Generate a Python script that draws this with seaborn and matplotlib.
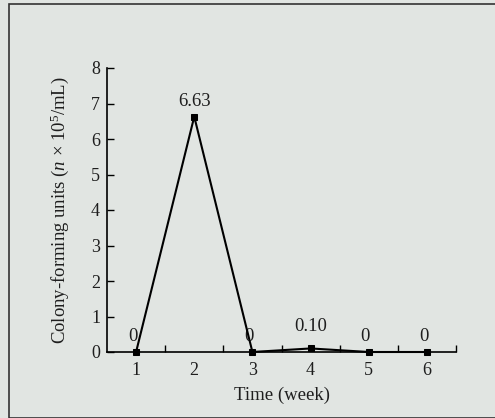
import matplotlib
matplotlib.use("Agg")
import matplotlib.pyplot as plt
import seaborn as sns
import pandas as pd
from matplotlib.patches import Rectangle

weeks = [1, 2, 3, 4, 5, 6]
cfu = [0, 6.63, 0, 0.10, 0, 0]
labels = ["0", "6.63", "0", "0.10", "0", "0"]

sns.set_style("ticks")
plt.rcParams['font.family'] = ['Liberation Serif', 'DejaVu Serif']
plt.rcParams['mathtext.fontset'] = 'custom'
plt.rcParams['mathtext.rm'] = 'Liberation Serif'
plt.rcParams['mathtext.it'] = 'Liberation Serif:italic'
bg = "#e1e5e2"
tc = "#1e1e1e"

fig = plt.figure(figsize=(4.95, 4.18), dpi=100, facecolor=bg)
ax = fig.add_axes([107/495, 1-352/418, (456-107)/495, (352-68)/418])
ax.set_facecolor(bg)

df = pd.DataFrame({"week": weeks, "cfu": cfu})
sns.lineplot(data=df, x="week", y="cfu", ax=ax, color="black", linewidth=1.5,
             marker="s", markersize=4.5, markeredgecolor="black", markerfacecolor="black",
             clip_on=False, zorder=5)

for x, y, t in zip(weeks, cfu, labels):
    dy = 16 if t == "0.10" else 11
    dx = -2.5 if t == "0" else 0
    ax.annotate(t, (x, y), xytext=(dx, dy), textcoords="offset points",
                ha="center", va="center", fontsize=13.5, color=tc)

ax.set_xlim(0.5, 6.5)
ax.set_ylim(0, 8)
ax.set_xticks(weeks)
ax.set_xticks([1.5, 2.5, 3.5, 4.5, 5.5, 6.5], minor=True)
ax.set_yticks(range(0, 9))
ax.tick_params(axis="x", which="major", length=0, pad=7, labelsize=13, labelcolor=tc)
ax.tick_params(axis="x", which="minor", direction="in", length=5, width=1, color="black")
ax.tick_params(axis="y", direction="in", length=5, width=1, pad=5, labelsize=13,
               color="black", labelcolor=tc)
sns.despine(ax=ax)
for s in ["left", "bottom"]:
    ax.spines[s].set_color("black")
    ax.spines[s].set_linewidth(1.2)

ax.set_xlabel("Time (week)", fontsize=13.5, color=tc, labelpad=6)
ax.set_ylabel("Colony-forming units ($\\mathit{n}$ × 10$^5$/mL)", fontsize=13.5, color=tc, labelpad=14)

fig.patches.append(Rectangle((8.5/495, 0.5/418), 1.0, 1 - 4.5/418, transform=fig.transFigure,
                             fill=False, edgecolor="#333333", linewidth=1.2))

fig.savefig("out.png", dpi=100, facecolor=bg)
